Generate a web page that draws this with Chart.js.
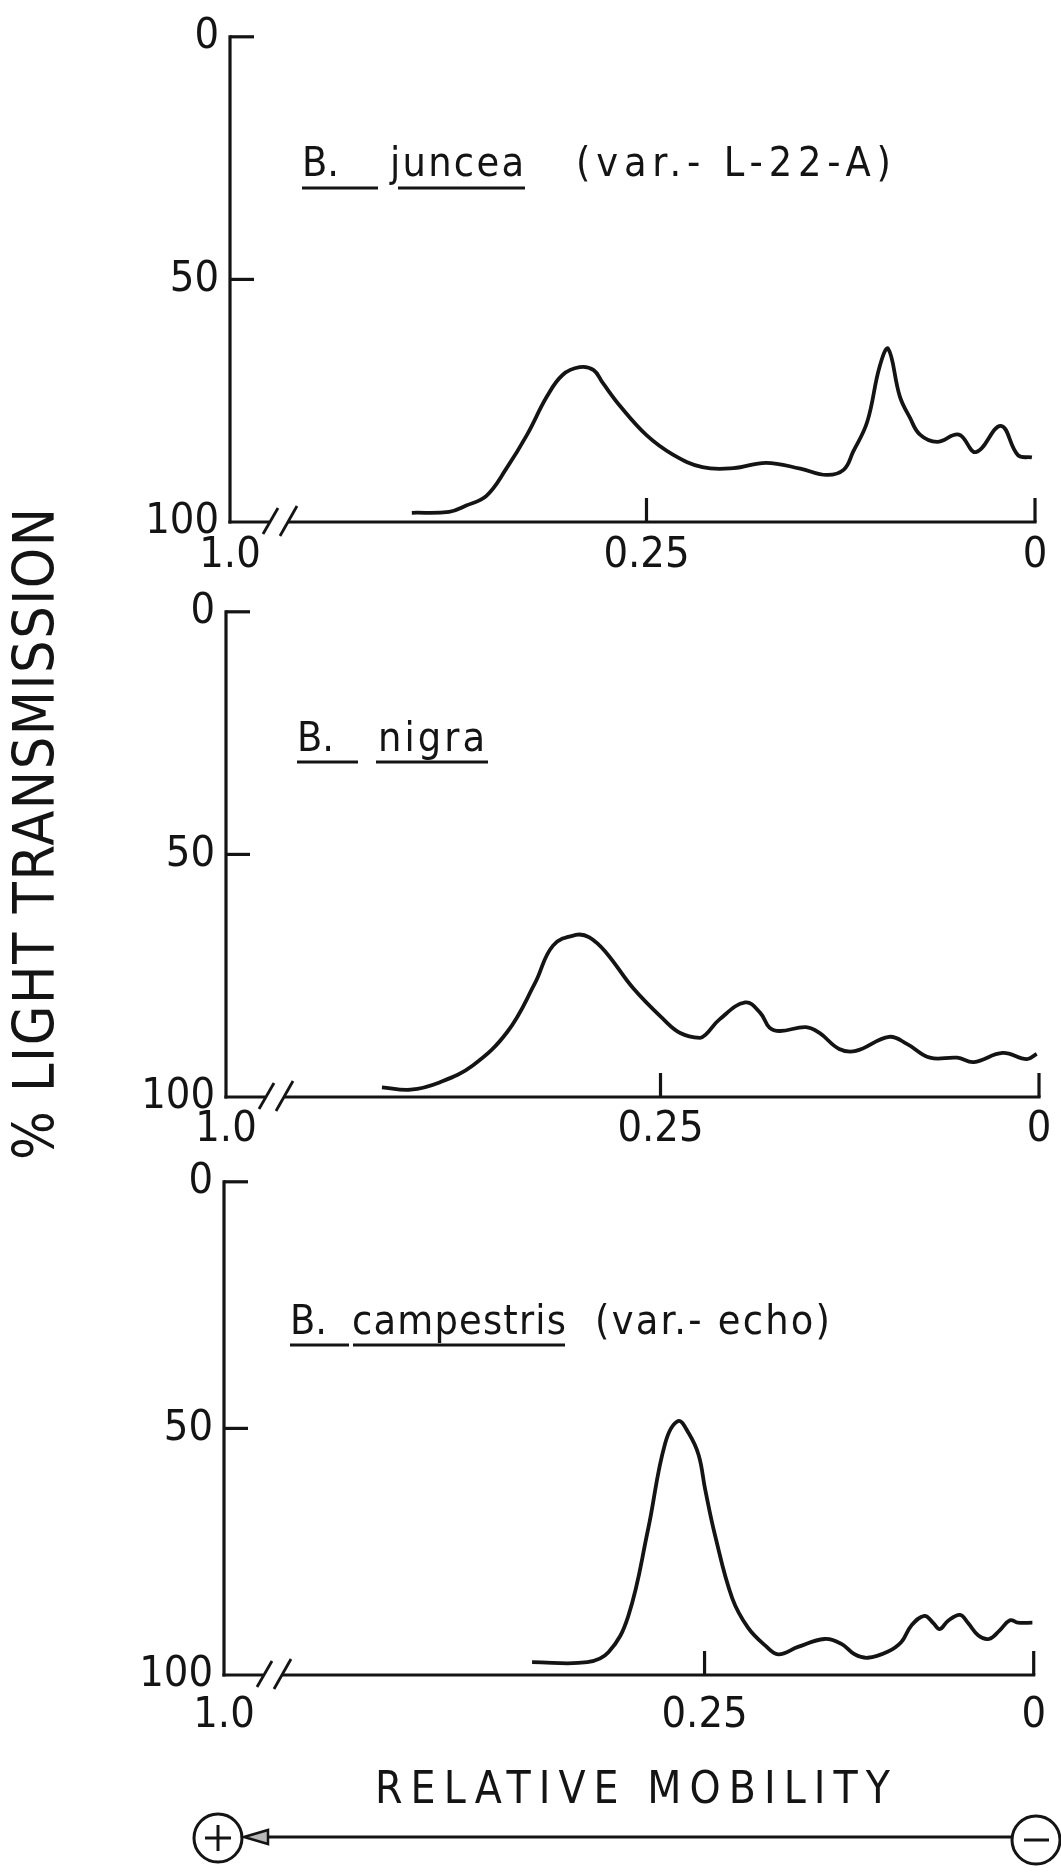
<!DOCTYPE html>
<html>
<head>
<meta charset="utf-8">
<title>Densitometer scans - relative mobility</title>
<script src="https://cdn.jsdelivr.net/npm/chart.js@4.4.1/dist/chart.umd.min.js"></script>
<style>
  html, body { margin: 0; padding: 0; background: #fff; }
  #page { position: relative; width: 1061px; height: 1875px; overflow: hidden; }
  #page canvas { position: absolute; left: 0; }
</style>
</head>
<body>
<div id="page">
  <canvas id="frame" width="1061" height="1875" style="top:0"></canvas>
  <canvas id="junceaChart" width="1061" height="600" style="top:0"></canvas>
  <canvas id="nigraChart" width="1061" height="600" style="top:575px"></canvas>
  <canvas id="campestrisChart" width="1061" height="610" style="top:1145px"></canvas>
</div>
<script>
// scan traces: relative mobility (x) against % light transmission (y)
const junceaMobility = [0.401, 0.377, 0.366, 0.353, 0.340, 0.327, 0.314, 0.304, 0.293, 0.284, 0.278, 0.267,
  0.250, 0.233, 0.214, 0.194, 0.173, 0.151, 0.134, 0.123, 0.117, 0.108, 0.100, 0.0945, 0.087, 0.0805,
  0.074, 0.063, 0.049, 0.038, 0.022, 0.011, 0.002];
const junceaTransmission = [98.1, 97.9, 96.6, 94.6, 88.9, 82.1, 74.1, 69.7, 68.1, 68.7, 71.4, 76.1,
  82.1, 86.1, 88.7, 88.9, 87.8, 89.0, 90.3, 89.2, 85.5, 79.4, 68.0, 64.3, 74.1, 78.5,
  82.0, 83.5, 82.0, 85.6, 80.2, 86.2, 86.7];

const nigraMobility = [0.434, 0.415, 0.396, 0.374, 0.351, 0.333, 0.321, 0.306, 0.297, 0.286, 0.268, 0.248,
  0.237, 0.224, 0.220, 0.211, 0.194, 0.184, 0.178, 0.171, 0.154, 0.145, 0.132, 0.121, 0.099, 0.087,
  0.072, 0.054, 0.043, 0.024, 0.008, 0.0015];
const nigraTransmission = [98.0, 98.5, 97.0, 93.5, 86.5, 76.6, 68.8, 66.6, 67.1, 70.2, 77.6, 84.0,
  86.8, 87.8, 87.1, 84.0, 80.5, 82.7, 85.7, 86.4, 85.6, 86.8, 90.1, 90.5, 87.6, 89.1,
  91.9, 91.9, 92.8, 90.9, 92.2, 91.1];

const campestrisMobility = [0.381, 0.339, 0.323, 0.308, 0.293, 0.280, 0.270, 0.262, 0.2545, 0.2495, 0.242,
  0.229, 0.217, 0.204, 0.194, 0.179, 0.159, 0.146, 0.136, 0.126, 0.111, 0.1005, 0.093, 0.083, 0.0765,
  0.0714, 0.065, 0.056, 0.050, 0.042, 0.034, 0.026, 0.018, 0.012, 0.001];
const campestrisTransmission = [97.4, 97.4, 95.4, 88.1, 70.6, 53.1, 48.5, 51.0, 55.4, 62.4, 71.7,
  84.4, 90.4, 94.0, 95.8, 94.3, 92.7, 93.7, 95.8, 96.5, 95.3, 93.3, 90.0, 88.0, 89.4,
  90.7, 89.0, 87.8, 89.4, 92.0, 92.7, 91.0, 88.9, 89.4, 89.4];

// axis ticks; the left end of each mobility axis is broken and labelled 1.0
const xTickValues = [0.25, 0];
const xTickLabels = ['1.0', '0.25', '0'];
const yTickValues = [0, 50, 100];
const yTickLabels = ['0', '50', '100'];

const FONT = "'DejaVu Sans Condensed', 'Liberation Sans Narrow', 'DejaVu Sans', sans-serif";
const INK = '#141414';
const PAGE_W = 1061;
const X_AXIS_H = 70;

// page geometry for each panel (canvas top, plot box, species heading)
const panels = [
  {
    canvas: 'junceaChart', top: 0, height: 600,
    mobility: junceaMobility, transmission: junceaTransmission,
    left: 230, plotTop: 27, plotBottom: 522, right: 1035, origin: 0.518, labelGap: 8,
    baseline: 176, underlineY: 188,
    heading: [
      { text: 'B.', x: 302, underline: [302, 378] },
      { text: 'juncea', x: 390, width: 134, underline: [398, 525] },
      { text: '(var.- L-22-A)', x: 576, width: 315 }
    ]
  },
  {
    canvas: 'nigraChart', top: 575, height: 600,
    mobility: nigraMobility, transmission: nigraTransmission,
    left: 226, plotTop: 604, plotBottom: 1097, right: 1039, origin: 0.537, labelGap: 7,
    baseline: 751, underlineY: 762,
    heading: [
      { text: 'B.', x: 297, underline: [297, 358] },
      { text: 'nigra', x: 378, width: 107, underline: [376, 488] }
    ]
  },
  {
    canvas: 'campestrisChart', top: 1145, height: 610,
    mobility: campestrisMobility, transmission: campestrisTransmission,
    left: 224, plotTop: 1174, plotBottom: 1675, right: 1036, origin: 0.615, labelGap: 15,
    baseline: 1334, underlineY: 1345,
    heading: [
      { text: 'B.', x: 290, underline: [290, 349] },
      { text: 'campestris', x: 352, width: 214, underline: [353, 565] },
      { text: '(var.- echo)', x: 595, width: 235 }
    ]
  }
];

// draw text starting at x, stretched with letter spacing to a given advance width
function fitText(ctx, text, x, baseline, size, width) {
  ctx.font = `${size}px ${FONT}`;
  ctx.letterSpacing = '0px';
  ctx.textAlign = 'left';
  ctx.textBaseline = 'alphabetic';
  const n = [...text].length;
  if (width && n > 1) {
    const natural = ctx.measureText(text).width;
    ctx.letterSpacing = ((width - natural) / (n - 1)).toFixed(2) + 'px';
  }
  ctx.fillText(text, x, baseline);
  ctx.letterSpacing = '0px';
}

function line(ctx, x1, y1, x2, y2) {
  ctx.beginPath();
  ctx.moveTo(x1, y1);
  ctx.lineTo(x2, y2);
  ctx.stroke();
}

// axis lines with inward ticks, the // break, and the species heading
function makeDecor(p) {
  return {
    id: 'panelDecor',
    afterDraw(chart) {
      const { ctx, chartArea: a, scales: { x, y } } = chart;
      ctx.save();
      ctx.strokeStyle = INK;
      ctx.fillStyle = INK;
      ctx.lineWidth = 3.2;

      line(ctx, a.left, a.top - 1.6, a.left, a.bottom + 1.6);
      [0, 50].forEach(v => {
        const py = y.getPixelForValue(v);
        line(ctx, a.left, py, a.left + 24, py);
      });

      const gapL = a.left + 39, gapR = a.left + 58;
      line(ctx, a.left - 1.6, a.bottom, gapL, a.bottom);
      line(ctx, gapR, a.bottom, a.right + 1.6, a.bottom);
      ctx.lineWidth = 2.8;
      line(ctx, a.left + 33, a.bottom + 12, a.left + 48, a.bottom - 14);
      line(ctx, a.left + 50, a.bottom + 14, a.left + 67, a.bottom - 16);
      ctx.lineWidth = 3.2;
      xTickValues.forEach(v => {
        const px = x.getPixelForValue(v);
        line(ctx, px, a.bottom, px, a.bottom - 24);
      });

      const off = p.top;
      p.heading.forEach(h => {
        fitText(ctx, h.text, h.x, p.baseline - off, 41, h.width);
        if (h.underline) {
          ctx.lineWidth = 3;
          line(ctx, h.underline[0], p.underlineY - off, h.underline[1], p.underlineY - off);
        }
      });
      ctx.restore();
    }
  };
}

const tickFont = { family: FONT, size: 43 };

panels.forEach(p => {
  const el = document.getElementById(p.canvas);
  new Chart(el, {
    type: 'line',
    data: {
      datasets: [{
        data: p.mobility.map((m, i) => ({ x: m, y: p.transmission[i] })),
        borderColor: INK,
        borderWidth: 3.8,
        pointRadius: 0,
        tension: 0.4,
        fill: false
      }]
    },
    options: {
      responsive: false,
      animation: false,
      events: [],
      layout: {
        padding: {
          top: p.plotTop - p.top,
          right: PAGE_W - p.right,
          left: 0,
          bottom: p.height - (p.plotBottom - p.top) - X_AXIS_H
        }
      },
      plugins: {
        legend: { display: false },
        tooltip: { enabled: false }
      },
      scales: {
        x: {
          type: 'linear',
          reverse: true,
          min: 0,
          max: p.origin,
          afterBuildTicks: s => { s.ticks = [p.origin, ...xTickValues].map(value => ({ value })); },
          afterFit: s => { s.height = X_AXIS_H; },
          grid: { display: false, drawTicks: false },
          border: { display: false },
          ticks: {
            autoSkip: false,
            maxRotation: 0,
            padding: p.labelGap,
            color: INK,
            font: tickFont,
            callback: (v, i) => xTickLabels[i]
          }
        },
        y: {
          type: 'linear',
          reverse: true,
          min: 0,
          max: 100,
          afterBuildTicks: s => { s.ticks = yTickValues.map(value => ({ value })); },
          afterFit: s => { s.width = p.left; },
          grid: { display: false, drawTicks: false },
          border: { display: false },
          ticks: {
            padding: 11,
            color: INK,
            font: tickFont,
            callback: (v, i) => yTickLabels[i]
          }
        }
      }
    },
    plugins: [makeDecor(p)]
  });
});

// shared axis titles and the electrode direction arrow
(function drawFrame() {
  const ctx = document.getElementById('frame').getContext('2d');
  ctx.fillStyle = INK;
  ctx.strokeStyle = INK;

  ctx.save();
  ctx.translate(54, 1160);
  ctx.rotate(-Math.PI / 2);
  fitText(ctx, '% LIGHT TRANSMISSION', 0, 0, 57, 652);
  ctx.restore();

  fitText(ctx, 'RELATIVE MOBILITY', 375, 1803, 44, 515);

  const ay = 1837;
  ctx.lineWidth = 3;
  line(ctx, 268, ay, 1012, ay);

  // anode (+) and cathode (-)
  ctx.beginPath();
  ctx.arc(218, 1838, 24, 0, Math.PI * 2);
  ctx.stroke();
  line(ctx, 205, 1838, 231, 1838);
  line(ctx, 218, 1825, 218, 1851);
  ctx.beginPath();
  ctx.arc(1036, 1840, 24, 0, Math.PI * 2);
  ctx.stroke();
  line(ctx, 1024, 1840, 1049, 1840);

  // hollow arrowhead pointing toward the anode
  ctx.beginPath();
  ctx.moveTo(244, ay);
  ctx.lineTo(268, ay - 7);
  ctx.lineTo(268, ay + 7);
  ctx.closePath();
  ctx.fillStyle = '#b8b8b8';
  ctx.fill();
  ctx.lineWidth = 2.5;
  ctx.stroke();
})();
</script>
</body>
</html>
